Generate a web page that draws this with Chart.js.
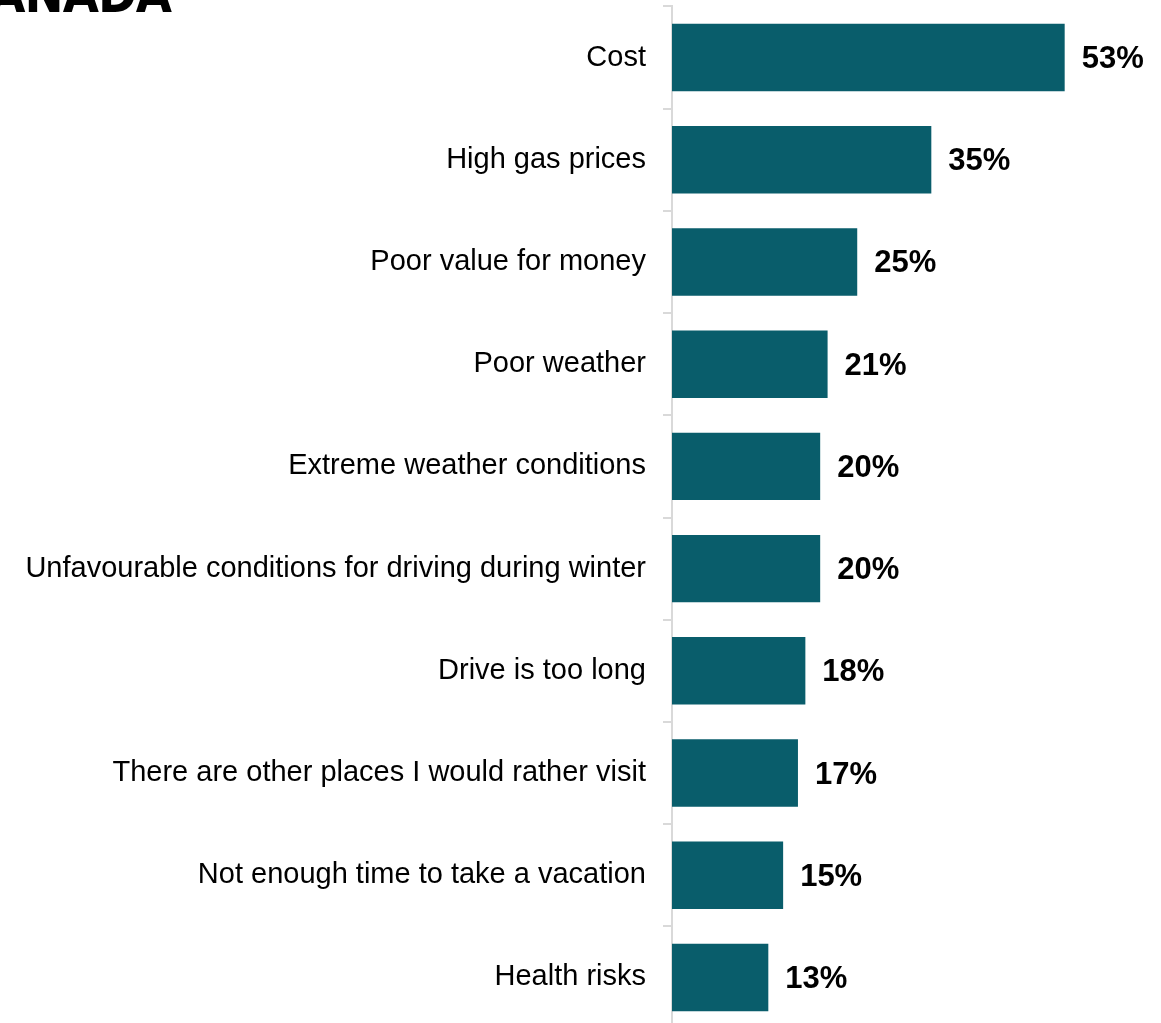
<!DOCTYPE html>
<html lang="en">
<head>
    <meta charset="UTF-8">
    <title>Reasons for not travelling</title>
    <script src="https://cdn.jsdelivr.net/npm/chart.js"></script>
    <style>
        html, body {
            margin: 0;
            padding: 0;
            overflow: hidden;
            background: #fff;
        }
        .logo {
            position: absolute;
            left: -44px;
            top: -36px;
            font-family: 'DejaVu Sans Condensed', 'Liberation Sans Narrow', sans-serif;
            font-weight: bold;
            font-size: 52px;
            letter-spacing: -1px;
            color: #000;
        }
        .wrap {
            position: absolute;
            left: 0;
            top: -28px;
            width: 1161px;
            height: 1091px;
        }
    </style>
</head>
<body>
    <div class="logo">CANADA</div>
    <div class="wrap"><canvas id="myChart"></canvas></div>

    <script>
        // data
        const reasons = [
            'Cost',
            'High gas prices',
            'Poor value for money',
            'Poor weather',
            'Extreme weather conditions',
            'Unfavourable conditions for driving during winter',
            'Drive is too long',
            'There are other places I would rather visit',
            'Not enough time to take a vacation',
            'Health risks'
        ];
        const shares = [53, 35, 25, 21, 20, 20, 18, 17, 15, 13];

        // value labels next to bars
        const valueLabels = {
            id: 'valueLabels',
            afterDatasetsDraw(chart) {
                const c = chart.ctx;
                const meta = chart.getDatasetMeta(0);
                c.save();
                c.font = 'bold 31px "Liberation Sans", Arial, sans-serif';
                c.fillStyle = '#000';
                c.textAlign = 'left';
                c.textBaseline = 'middle';
                meta.data.forEach((bar, i) => {
                    c.fillText(shares[i] + '%', bar.x + 17, bar.y + 2);
                });
                c.restore();
            }
        };

        const ctx = document.getElementById('myChart').getContext('2d');
        new Chart(ctx, {
            type: 'bar',
            data: {
                labels: reasons,
                datasets: [{
                    data: shares,
                    backgroundColor: '#095d6b',
                    barPercentage: 0.66,
                    categoryPercentage: 1
                }]
            },
            options: {
                indexAxis: 'y',
                responsive: true,
                maintainAspectRatio: false,
                animation: false,
                layout: { padding: { top: 6, right: 0, bottom: 0, left: 0 } },
                plugins: {
                    legend: { display: false },
                    tooltip: { enabled: false }
                },
                scales: {
                    x: {
                        display: false,
                        min: 0,
                        max: 66
                    },
                    y: {
                        afterFit(scale) { scale.width = 672; },
                        border: { color: '#d9d9d9', width: 2 },
                        grid: {
                            offset: true,
                            drawOnChartArea: false,
                            tickLength: 9,
                            color: '#d9d9d9',
                            lineWidth: 2
                        },
                        ticks: {
                            color: '#000',
                            padding: 17,
                            font: { family: '"Liberation Sans", Arial, sans-serif', size: 29 }
                        }
                    }
                }
            },
            plugins: [valueLabels]
        });
    </script>
</body>
</html>
